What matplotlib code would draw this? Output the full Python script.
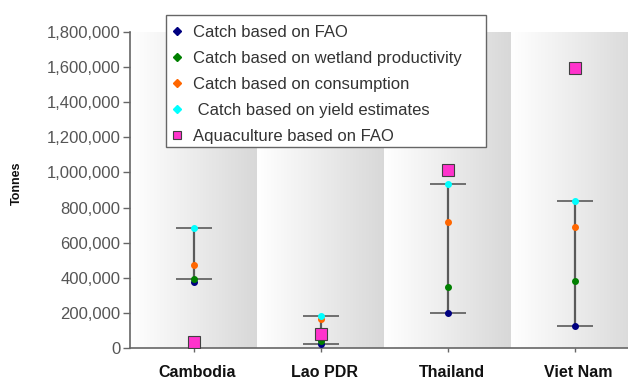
import numpy as np
import matplotlib
matplotlib.use("Agg")
import matplotlib.pyplot as plt
import matplotlib.transforms as mtransforms
from matplotlib.ticker import FuncFormatter, FixedLocator
from matplotlib.colors import LinearSegmentedColormap
from matplotlib.lines import Line2D
from matplotlib.patches import Rectangle

plt.rcParams['font.family'] = ['Liberation Sans', 'DejaVu Sans']

countries = ["Cambodia", "Lao PDR", "Thailand", "Viet Nam"]
catch_fao = [378000, 23000, 198000, 125000]
catch_wetland = [391000, 40000, 349000, 382000]
catch_consumption = [474000, 165000, 716000, 691000]
catch_yield = [685000, 182000, 932000, 839000]
aquaculture_fao = [36000, 78000, 1014000, 1596000]
range_low = [393000, 25000, 198000, 125000]
range_high = [683000, 182000, 932000, 839000]
yticks = [0, 200000, 400000, 600000, 800000, 1000000, 1200000, 1400000, 1600000, 1800000]
series_labels = ["Catch based on FAO", "Catch based on wetland productivity",
                 "Catch based on consumption", " Catch based on yield estimates",
                 "Aquaculture based on FAO"]

W, H = 628, 379
fig = plt.figure(figsize=(W / 100, H / 100), dpi=100)
ax = fig.add_axes([130 / W, 31 / H, 508 / W, 316 / H])

x = np.arange(len(countries))
ymax = yticks[-1]

# gradient background bands per category
cmap = LinearSegmentedColormap.from_list("band", ["#ffffff", "#ececec", "#d8d8d8"])
grad = np.linspace(0, 1, 256).reshape(1, -1)
for xi in x:
    ax.imshow(grad, cmap=cmap, extent=(xi - 0.5, xi + 0.5, 0, ymax),
              aspect='auto', zorder=0, interpolation='bilinear')

# range bars
lo = np.array(range_low)
hi = np.array(range_high)
mid = (lo + hi) / 2
ax.errorbar(x, mid, yerr=[mid - lo, hi - mid], fmt='none', ecolor='#5a5a5a',
            elinewidth=1.6, capsize=13, capthick=1.2, zorder=2)

colors = ['#000080', '#008000', '#ff6600', '#00ffff']
catch = [catch_fao, catch_wetland, catch_consumption, catch_yield]
ms = 4.0
handles = []
for vals, c, lab in zip(catch, colors, series_labels[:4]):
    ax.plot(x, vals, 'o', color=c, ms=ms, ls='none', zorder=3)
    handles.append(Line2D([], [], marker='D', color=c, ms=3.6, ls='none', label=lab))
ax.plot(x, aquaculture_fao, 's', color='#ff33cc', mec='#404040', mew=0.8,
        ms=8.5, ls='none', zorder=4)
handles.append(Line2D([], [], marker='s', color='#ff33cc', mec='#404040', mew=0.8,
                      ms=6, ls='none', label=series_labels[4]))

ax.set_xlim(-0.5, len(countries) - 0.5)
ax.set_ylim(0, ymax)
ax.yaxis.set_major_locator(FixedLocator(yticks))
ax.yaxis.set_major_formatter(FuncFormatter(lambda v, p: f"{int(v):,}"))
ax.set_xticks(x)
ax.set_xticklabels(countries, fontweight='bold', fontsize=11.5, color='#111111')
ax.tick_params(axis='y', direction='out', length=5, width=1, color='#666666',
               labelsize=12, labelcolor='#555555', pad=2)
ax.tick_params(axis='x', direction='out', length=3, width=1, color='#666666', pad=9)
shift = mtransforms.ScaledTranslation(4 / 100, 0, fig.dpi_scale_trans)
for lbl in ax.get_xticklabels():
    lbl.set_transform(lbl.get_transform() + shift)

for s in ['top', 'right']:
    ax.spines[s].set_visible(False)
for s in ['left', 'bottom']:
    ax.spines[s].set_color('#666666')
    ax.spines[s].set_linewidth(1.2)

fig.text(17 / W, 1 - 183 / H, "Tonnes", rotation=90, fontsize=9, fontweight='bold',
         ha='center', va='center', color='#111111')

# legend box
box = Rectangle((166 / W, 1 - 147 / H), (486 - 166) / W, (147 - 15) / H,
                transform=fig.transFigure, facecolor='white', edgecolor='#666666',
                linewidth=1.0, clip_on=False, zorder=9)
ax.add_patch(box)

leg = ax.legend(handles=handles, loc='upper left',
                bbox_to_anchor=(166 / W, 1 - 20 / H), bbox_transform=fig.transFigure,
                fontsize=12, frameon=False, borderpad=0.3,
                labelspacing=0.66, handlelength=0.7, handletextpad=0.6,
                borderaxespad=0, markerscale=1.0)
for t in leg.get_texts():
    t.set_color('#333333')
leg.set_zorder(10)

fig.savefig("out.png", dpi=100)
